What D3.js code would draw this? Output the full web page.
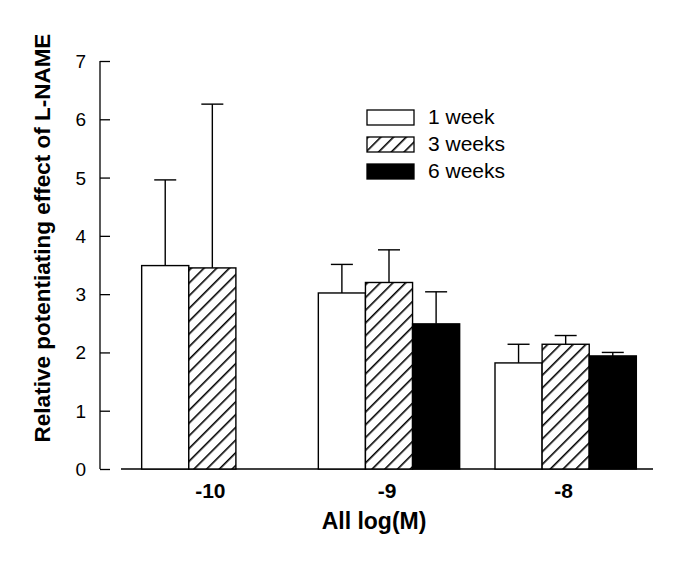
<!DOCTYPE html>
<html><head><meta charset="utf-8">
<script src="https://cdn.jsdelivr.net/npm/d3@7"></script>
<style>body{margin:0;background:#fff}text{font-family:"Liberation Sans",Arial,sans-serif}</style>
</head><body>
<script>
const categories = ["-10", "-9", "-8"];
const seriesNames = ["1 week", "3 weeks", "6 weeks"];
const week1 = [3.49, 3.02, 1.82];
const week1Err = [1.47, 0.49, 0.32];
const week3 = [3.45, 3.20, 2.14];
const week3Err = [2.81, 0.56, 0.15];
const week6 = [null, 2.49, 1.94];
const week6Err = [null, 0.55, 0.06];
const yTicks = [0, 1, 2, 3, 4, 5, 6, 7];

const W = 685, H = 562;
const svg = d3.select("body").append("svg").attr("width", W).attr("height", H);
const defs = svg.append("defs");
const pat = defs.append("pattern").attr("id", "hatch").attr("patternUnits", "userSpaceOnUse")
  .attr("width", 9).attr("height", 9).attr("patternTransform", "rotate(45)");
pat.append("rect").attr("width", 9).attr("height", 9).attr("fill", "#fff");
pat.append("line").attr("x1", 0).attr("y1", 0).attr("x2", 0).attr("y2", 9)
  .attr("stroke", "#000").attr("stroke-width", 3.2);

const fills = ["#fff", "url(#hatch)", "#000"];
const values = [week1, week3, week6];
const errs = [week1Err, week3Err, week6Err];

const y = d3.scaleLinear().domain([0, 7]).range([469, 61]);
const x0 = d3.scaleBand().domain(categories).range([124, 654]).paddingInner(0.2).paddingOuter(0.1);
const x1 = d3.scaleBand().domain(d3.range(3)).range([0, x0.bandwidth()]);

// y axis with inward ticks
const yAxis = d3.axisRight(y).tickValues(yTicks).tickSize(10).tickFormat("");
const gy = svg.append("g").attr("transform", "translate(100,0)").call(yAxis);
gy.select(".domain").attr("d", "M0," + y(7) + "V" + y(0)).attr("stroke-width", 1.3);
gy.selectAll(".tick line").attr("stroke-width", 1.3);
svg.append("g").selectAll("text").data(yTicks).join("text")
  .attr("x", 86).attr("y", d => y(d) + 7).attr("text-anchor", "end")
  .attr("font-size", 19).text(d => d);

// baseline
svg.append("line").attr("x1", 121).attr("x2", 653).attr("y1", y(0)).attr("y2", y(0))
  .attr("stroke", "#000").attr("stroke-width", 1.5);

// bars
const data = [];
categories.forEach((c, i) => {
  for (let s = 0; s < 3; s++) {
    if (values[s][i] != null) data.push({c, s, v: values[s][i], e: errs[s][i]});
  }
});
const g = svg.append("g");
g.selectAll("line.err").data(data).join("line").attr("class", "err")
  .attr("x1", d => x0(d.c) + x1(d.s) + x1.bandwidth() / 2)
  .attr("x2", d => x0(d.c) + x1(d.s) + x1.bandwidth() / 2)
  .attr("y1", d => y(d.v)).attr("y2", d => y(d.v + d.e))
  .attr("stroke", "#000").attr("stroke-width", 1.4);
g.selectAll("line.cap").data(data).join("line").attr("class", "cap")
  .attr("x1", d => x0(d.c) + x1(d.s) + x1.bandwidth() / 2 - 11)
  .attr("x2", d => x0(d.c) + x1(d.s) + x1.bandwidth() / 2 + 11)
  .attr("y1", d => y(d.v + d.e)).attr("y2", d => y(d.v + d.e))
  .attr("stroke", "#000").attr("stroke-width", 1.4);
g.selectAll("rect").data(data).join("rect")
  .attr("x", d => x0(d.c) + x1(d.s)).attr("width", x1.bandwidth())
  .attr("y", d => y(d.v)).attr("height", d => y(0) - y(d.v))
  .attr("fill", d => fills[d.s]).attr("stroke", "#000").attr("stroke-width", 1.4);

// x tick labels
svg.append("g").selectAll("text").data(categories).join("text")
  .attr("x", d => x0(d) + x0.bandwidth() / 2 - 2).attr("y", 498)
  .attr("text-anchor", "middle").attr("font-size", 21).attr("font-weight", "bold").text(d => d);

// axis titles
svg.append("text").attr("x", 374).attr("y", 529).attr("text-anchor", "middle")
  .attr("font-size", 23).attr("font-weight", "bold").text("All log(M)");
svg.append("text").attr("transform", "translate(50,238) rotate(-90)").attr("text-anchor", "middle")
  .attr("font-size", 22.5).attr("font-weight", "bold").text("Relative potentiating effect of L-NAME");

// legend
const lg = svg.append("g").selectAll("g").data(seriesNames).join("g")
  .attr("transform", (d, i) => "translate(367," + (110 + i * 27) + ")");
lg.append("rect").attr("width", 47).attr("height", 15)
  .attr("fill", (d, i) => fills[i]).attr("stroke", "#000").attr("stroke-width", 1.3);
lg.append("text").attr("x", 61).attr("y", 14).attr("font-size", 21).text(d => d);
</script>
</body></html>
